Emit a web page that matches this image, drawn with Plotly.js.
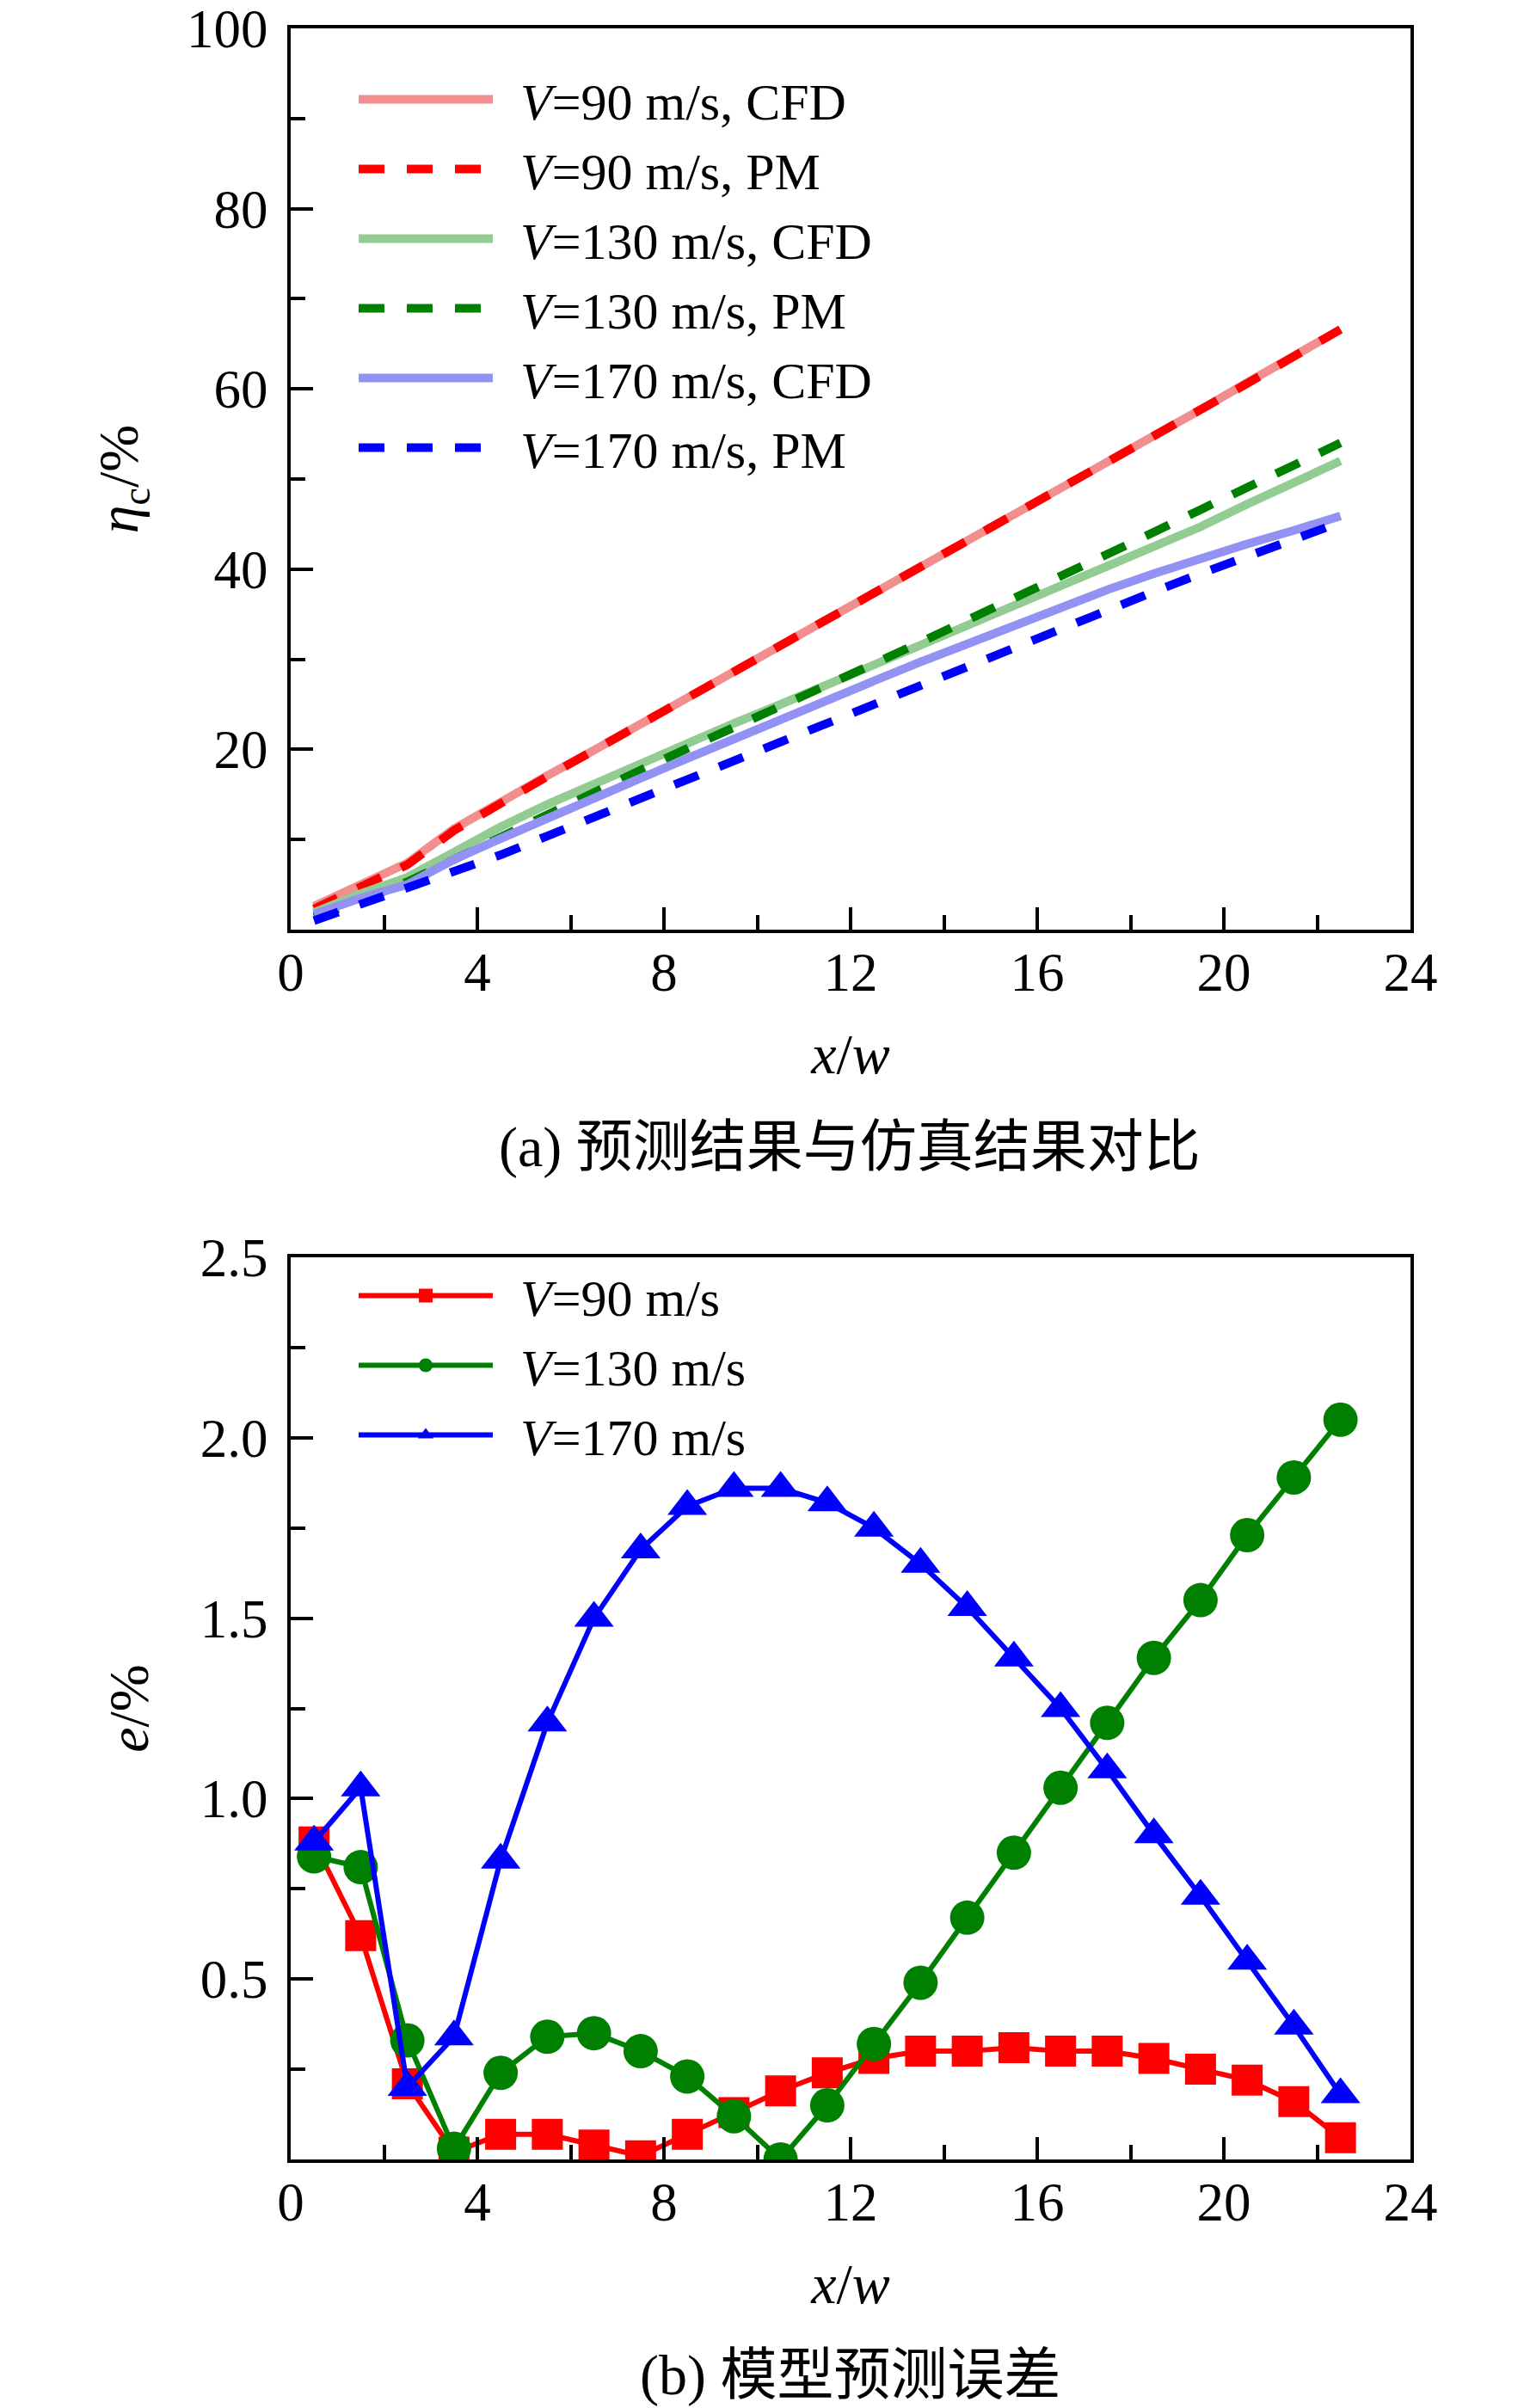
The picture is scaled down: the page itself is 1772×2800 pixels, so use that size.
<!DOCTYPE html>
<html>
<head>
<meta charset="utf-8">
<script src="https://cdn.plot.ly/plotly-3.0.1.min.js"></script>
<style>
  html, body { margin: 0; padding: 0; background: #fff; }
  #chart { width: 1772px; height: 2800px; }
</style>
</head>
<body>
<div id="chart"></div>
<script>
// x/w positions of the sampled cross sections
const xPos = [0.5, 1.5, 2.5, 3.5, 4.5, 5.5, 6.5, 7.5, 8.5, 9.5, 10.5, 11.5,
  12.5, 13.5, 14.5, 15.5, 16.5, 17.5, 18.5, 19.5, 20.5, 21.5, 22.5]

// (a) eta_c / %
const eta90Cfd = [2.6, 5.0, 7.4, 11.2, 14.2, 17.1, 19.9, 22.8, 25.7, 28.6, 31.5, 34.4,
  37.2, 40.1, 43.0, 45.9, 48.8, 51.8, 54.8, 57.7, 60.7, 63.6, 66.6]
const eta90Pm = [2.3, 4.7, 7.2, 11.0, 14.1, 17.0, 19.9, 22.8, 25.7, 28.6, 31.4, 34.3,
  37.2, 40.1, 43.0, 45.9, 48.8, 51.8, 54.7, 57.7, 60.6, 63.6, 66.6]
const eta130Cfd = [1.9, 4.0, 5.8, 8.6, 11.4, 13.9, 16.2, 18.5, 20.7, 22.9, 25.0, 27.2,
  29.4, 31.6, 33.8, 36.0, 38.2, 40.4, 42.6, 44.7, 47.2, 49.6, 52.0]
const eta130Pm = [1.4, 3.2, 5.3, 7.8, 10.4, 12.8, 15.2, 17.7, 20.1, 22.4, 24.8, 27.1,
  29.5, 31.9, 34.3, 36.8, 39.2, 41.7, 44.1, 46.6, 49.1, 51.5, 54.0]
const eta170Cfd = [1.7, 3.5, 5.0, 7.8, 10.1, 12.4, 14.6, 16.8, 19.0, 21.2, 23.3, 25.5,
  27.6, 29.7, 31.7, 33.8, 35.8, 37.7, 39.5, 41.2, 42.8, 44.3, 45.9]
const eta170Pm = [1.0, 2.8, 4.6, 6.5, 8.3, 10.4, 12.5, 14.5, 16.6, 18.7, 20.8, 22.9,
  25.0, 27.1, 29.2, 31.3, 33.4, 35.5, 37.5, 39.5, 41.4, 43.3, 45.2]

// (b) e / %
const err90 = [0.88, 0.62, 0.21, 0.02, 0.07, 0.07, 0.04, 0.01, 0.07, 0.13, 0.19, 0.24,
  0.28, 0.30, 0.30, 0.31, 0.30, 0.30, 0.28, 0.25, 0.22, 0.16, 0.06]
const err130 = [0.84, 0.81, 0.33, 0.03, 0.24, 0.34, 0.35, 0.30, 0.23, 0.12, 0.00, 0.15,
  0.32, 0.49, 0.67, 0.85, 1.03, 1.21, 1.39, 1.55, 1.73, 1.89, 2.05]
const err170 = [0.88, 1.03, 0.20, 0.34, 0.83, 1.21, 1.50, 1.69, 1.81, 1.86, 1.86, 1.82,
  1.75, 1.65, 1.53, 1.39, 1.25, 1.08, 0.90, 0.73, 0.55, 0.37, 0.18]

const serif = "'Liberation Serif', 'Times New Roman', serif"
const cjk = "'Liberation Serif', 'Noto Sans CJK SC', serif"

const dashPm = '30px,26px'
// small gap between the legend sample and its label
const gap = '\u00a0\u2009'

function cfd (name, y, color) {
  return {
    name: gap + name, x: xPos, y: y, type: 'scatter', mode: 'lines',
    line: { color: color, width: 10 },
    xaxis: 'x', yaxis: 'y', legend: 'legend'
  }
}

function pm (name, y, color) {
  return {
    name: gap + name, x: xPos, y: y, type: 'scatter', mode: 'lines',
    line: { color: color, width: 10, dash: dashPm },
    xaxis: 'x', yaxis: 'y', legend: 'legend'
  }
}

function err (name, y, color, symbol, size) {
  return {
    name: gap + name, x: xPos, y: y, type: 'scatter', mode: 'lines+markers',
    line: { color: color, width: 6 },
    marker: { color: color, symbol: symbol, size: size },
    xaxis: 'x2', yaxis: 'y2', legend: 'legend2'
  }
}

const traces = [
  cfd('<i>V</i>=90 m/s, CFD', eta90Cfd, 'rgb(242,142,142)'),
  pm('<i>V</i>=90 m/s, PM', eta90Pm, 'rgb(255,0,0)'),
  cfd('<i>V</i>=130 m/s, CFD', eta130Cfd, 'rgb(146,204,146)'),
  pm('<i>V</i>=130 m/s, PM', eta130Pm, 'rgb(0,128,0)'),
  cfd('<i>V</i>=170 m/s, CFD', eta170Cfd, 'rgb(146,146,245)'),
  pm('<i>V</i>=170 m/s, PM', eta170Pm, 'rgb(0,0,255)'),
  err('<i>V</i>=90 m/s', err90, 'rgb(255,0,0)', 'square', 36),
  err('<i>V</i>=130 m/s', err130, 'rgb(0,128,0)', 'circle', 40),
  err('<i>V</i>=170 m/s', err170, 'rgb(0,0,255)', 'triangle-up', 40)
]

const tickFont = { family: serif, size: 63, color: '#000' }

function xAxis (anchor) {
  return {
    domain: [338 / 1772, 1640 / 1772],
    anchor: anchor,
    range: [0, 24],
    tickmode: 'linear', tick0: 0, dtick: 4,
    ticks: 'inside', ticklen: 26, tickwidth: 4, tickcolor: '#000',
    minor: { tickmode: 'linear', tick0: 0, dtick: 2, ticks: 'inside', ticklen: 17, tickwidth: 4, tickcolor: '#000' },
    ticklabelstandoff: -9,
    ticklabeloverflow: 'allow',
    showline: true, linecolor: '#000', linewidth: 4, mirror: true,
    showgrid: false, zeroline: false,
    tickfont: tickFont,
    title: { text: '<i>x</i>/<i>w</i>', font: { family: serif, size: 66, color: '#000' }, standoff: 38 }
  }
}

const layout = {
  width: 1772,
  height: 2800,
  margin: { l: 0, r: 0, t: 0, b: 0 },
  paper_bgcolor: '#fff',
  plot_bgcolor: '#fff',
  showlegend: true,
  xaxis: xAxis('y'),
  yaxis: {
    domain: [1 - 1081 / 2800, 1 - 33 / 2800],
    anchor: 'x',
    range: [0, 100],
    tickmode: 'array', tickvals: [20, 40, 60, 80, 100],
    ticks: 'inside', ticklen: 26, tickwidth: 4, tickcolor: '#000',
    minor: { tickmode: 'linear', tick0: 0, dtick: 10, ticks: 'inside', ticklen: 17, tickwidth: 4, tickcolor: '#000' },
    ticklabelstandoff: 10,
    ticklabeloverflow: 'allow',
    showline: true, linecolor: '#000', linewidth: 4, mirror: true,
    showgrid: false, zeroline: false,
    tickfont: tickFont,
    title: { text: '<i>η</i><sub>c</sub>/%', font: { family: serif, size: 66, color: '#000' }, standoff: 36 }
  },
  xaxis2: xAxis('y2'),
  yaxis2: {
    domain: [1 - 2511 / 2800, 1 - 1462 / 2800],
    anchor: 'x2',
    range: [0, 2.5],
    tickmode: 'array', tickvals: [0.5, 1.0, 1.5, 2.0, 2.5], ticktext: ['0.5', '1.0', '1.5', '2.0', '2.5'],
    ticks: 'inside', ticklen: 26, tickwidth: 4, tickcolor: '#000',
    minor: { tickmode: 'linear', tick0: 0, dtick: 0.25, ticks: 'inside', ticklen: 17, tickwidth: 4, tickcolor: '#000' },
    ticklabelstandoff: 10,
    ticklabeloverflow: 'allow',
    showline: true, linecolor: '#000', linewidth: 4, mirror: true,
    showgrid: false, zeroline: false,
    tickfont: tickFont,
    title: { text: '<i>e</i>/%', font: { family: serif, size: 66, color: '#000' }, standoff: 40 }
  },
  legend: {
    x: 412 / 1772, y: 1 - 70 / 2800, xanchor: 'left', yanchor: 'top',
    bgcolor: 'rgba(0,0,0,0)', borderwidth: 0,
    itemwidth: 156,
    font: { family: serif, size: 60, color: '#000' },
    tracegroupgap: 0
  },
  legend2: {
    x: 412 / 1772, y: 1 - 1461 / 2800, xanchor: 'left', yanchor: 'top',
    bgcolor: 'rgba(0,0,0,0)', borderwidth: 0,
    itemwidth: 156,
    font: { family: serif, size: 60, color: '#000' },
    tracegroupgap: 0
  },
  annotations: [
    {
      text: '(a) 预测结果与仿真结果对比',
      xref: 'paper', yref: 'paper', x: 988 / 1772, y: 1 - 1334 / 2800,
      xanchor: 'center', yanchor: 'middle', showarrow: false,
      font: { family: cjk, size: 66, color: '#000' }
    },
    {
      text: '(b) 模型预测误差',
      xref: 'paper', yref: 'paper', x: 988 / 1772, y: 1 - 2762 / 2800,
      xanchor: 'center', yanchor: 'middle', showarrow: false,
      font: { family: cjk, size: 66, color: '#000' }
    }
  ]
}

Plotly.newPlot(document.getElementById('chart'), traces, layout, { staticPlot: true })
</script>
</body>
</html>
